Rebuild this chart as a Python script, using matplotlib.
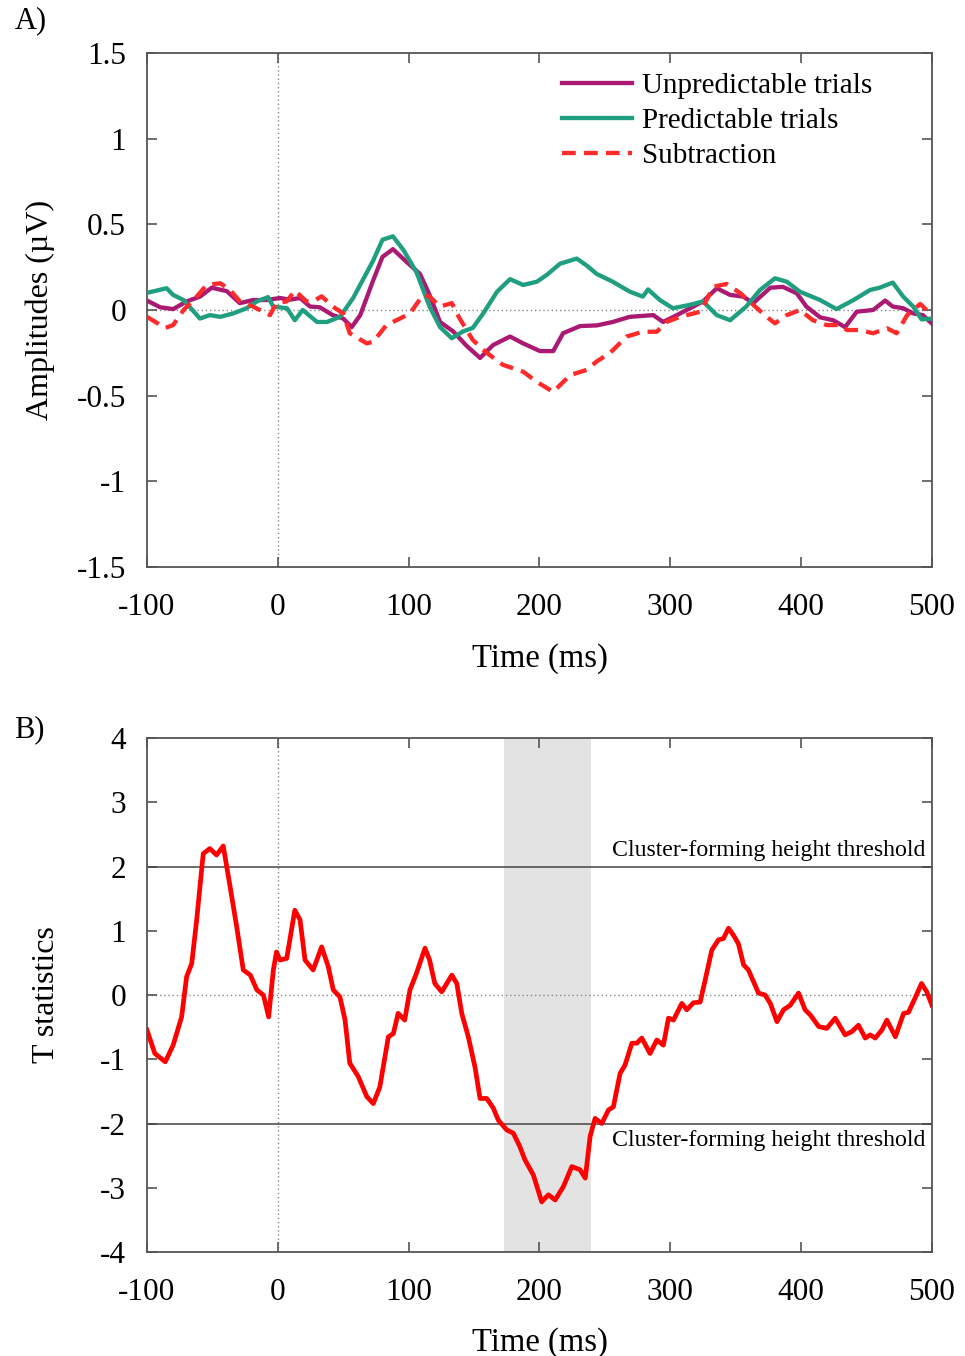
import matplotlib
matplotlib.use("Agg")
import matplotlib.pyplot as plt

plt.rcParams['font.family'] = ['Liberation Serif', 'DejaVu Serif']

# ---------------- data ----------------
t_pred = [-100, -85, -80, -72, -59.5, -52, -44, -34, -24, -16, -7.5, -3.5, 7, 13, 19, 30, 37.6, 47.5, 57.6,
          73, 80, 88, 96, 106, 116, 124, 133, 141.6, 149, 157, 167.6, 177.5, 187.5, 198, 205.6, 215.7,
          228.5, 236, 243.8, 256, 269, 279, 283, 292, 302, 315, 325, 335.5, 345.7, 358, 368.6, 380, 389,
          399, 414.5, 427, 440, 452.7, 460, 470, 478, 485.6, 492, 500]
v_pred = [0.10, 0.127, 0.088, 0.058, -0.05, -0.03, -0.04, -0.02, 0.01, 0.05, 0.075, 0.02, 0.01, -0.06, 0.0,
          -0.07, -0.07, -0.04, 0.07, 0.29, 0.41, 0.43, 0.35, 0.22, 0.02, -0.10, -0.165, -0.125, -0.105,
          -0.02, 0.107, 0.18, 0.146, 0.165, 0.205, 0.27, 0.30, 0.26, 0.21, 0.165, 0.107, 0.078, 0.12,
          0.058, 0.01, 0.03, 0.05, -0.03, -0.06, 0.02, 0.117, 0.185, 0.165, 0.107, 0.058, 0.005, 0.058,
          0.117, 0.13, 0.16, 0.078, 0.02, -0.055, -0.05]

t_unpred = [-100, -90, -80, -69.7, -59.5, -50.5, -39, -29, -19, -8.5, 1.7, 9, 17, 24.6, 32, 42, 50, 56.5,
            63, 73, 80, 88, 98.5, 108.7, 116, 124, 134, 144.4, 154.6, 164.5, 177.5, 187.5, 200.4, 210.5,
            218, 231, 243.8, 256, 269, 287, 294.5, 305, 317.5, 325, 335.5, 345.7, 355.7, 363.4, 376.4,
            386, 396.7, 404, 414.5, 424.5, 433.6, 442.5, 455, 464.2, 470, 478, 485.6, 493, 500]
v_unpred = [0.055, 0.016, 0.005, 0.05, 0.078, 0.13, 0.11, 0.04, 0.058, 0.058, 0.07, 0.06, 0.07, 0.02,
            0.016, -0.03, -0.05, -0.10, -0.03, 0.175, 0.31, 0.355, 0.28, 0.21, 0.088, -0.07, -0.125,
            -0.21, -0.28, -0.205, -0.155, -0.195, -0.24, -0.24, -0.136, -0.094, -0.09, -0.07, -0.04,
            -0.03, -0.07, -0.03, 0.02, 0.05, 0.127, 0.088, 0.078, 0.04, 0.13, 0.135, 0.097, 0.02, -0.043,
            -0.06, -0.10, -0.01, 0.0, 0.055, 0.02, 0.01, -0.02, -0.03, -0.08]

t_sub = [-100, -86, -80, -72, -62, -54.4, -44, -36.5, -29, -19, -6, -1, 6.8, 13, 22, 27, 33.5, 42, 50, 55,
         68, 73, 83, 93.4, 101, 111, 116, 124, 133, 139, 149, 159.7, 172, 187.5, 198, 210.5, 223.5, 236,
         243.8, 254, 266.7, 279, 289.7, 297, 307.5, 323, 333, 343, 353.7, 363.4, 373.7, 380, 389, 399,
         409, 419.6, 430, 435, 445, 455, 465.7, 473, 481, 491, 500]
v_sub = [-0.04, -0.105, -0.088, 0.0, 0.078, 0.146, 0.156, 0.117, 0.05, 0.02, -0.03, 0.04, 0.05, 0.113,
         0.05, 0.05, 0.08, 0.02, -0.02, -0.136, -0.195, -0.185, -0.088, -0.05, -0.02, 0.088, 0.078, 0.02,
         0.04, -0.05, -0.175, -0.25, -0.32, -0.36, -0.42, -0.478, -0.38, -0.35, -0.30, -0.25, -0.155,
         -0.127, -0.127, -0.07, -0.04, -0.01, 0.136, 0.152, 0.097, 0.03, -0.04, -0.078, -0.03, 0.0, -0.06,
         -0.088, -0.088, -0.117, -0.117, -0.136, -0.107, -0.136, -0.03, 0.035, -0.03]

t_stat = [-100, -94, -86, -80, -73.5, -69.7, -65.8, -62, -57, -52, -46.8, -41.7, -36.5, -31.4, -26.4, -21,
          -16, -11, -7, -3.4, -1, 1.7, 6.8, 13, 17, 20.8, 27, 33.5, 38.6, 42.4, 47.5, 51.4, 55, 61.5, 68,
          73, 78, 84.5, 88.3, 92, 97, 101, 106, 112.5, 116, 120, 125.3, 133, 136.8, 140.6, 145.6, 150.7,
          154.6, 159.7, 164.7, 168.6, 175, 180, 185, 189, 195.3, 201.7, 206.8, 212, 218.3, 224.7, 231,
          235, 238.7, 242.5, 247.6, 252.7, 256.5, 261.6, 265.4, 270.6, 274.4, 278.2, 284.5, 289.7, 294.7,
          298.6, 302.4, 308.8, 312.6, 317.7, 322.8, 326.6, 331.7, 336.8, 340.6, 344.5, 348.3, 352, 356,
          359.7, 367.4, 372.5, 376.4, 381.5, 386.5, 391.6, 398, 403, 407, 413.4, 419.6, 426, 433.6,
          438.7, 443.8, 449, 452.7, 456.6, 461.7, 465.5, 472, 478.3, 482, 487, 492, 496, 500]
v_stat = [-0.545, -0.91, -1.04, -0.78, -0.34, 0.285, 0.49, 1.17, 2.2, 2.28, 2.18, 2.32, 1.69, 1.06, 0.39,
          0.31, 0.08, 0.0, -0.34, 0.39, 0.67, 0.545, 0.57, 1.32, 1.17, 0.545, 0.39, 0.75, 0.44, 0.08,
          -0.03, -0.39, -1.06, -1.27, -1.58, -1.69, -1.43, -0.65, -0.6, -0.285, -0.39, 0.08, 0.34, 0.73,
          0.545, 0.18, 0.05, 0.31, 0.18, -0.285, -0.65, -1.12, -1.61, -1.61, -1.76, -1.95, -2.1, -2.15,
          -2.36, -2.57, -2.8, -3.22, -3.11, -3.19, -2.98, -2.67, -2.72, -2.85, -2.2, -1.92, -2.0, -1.79,
          -1.74, -1.22, -1.09, -0.75, -0.75, -0.67, -0.91, -0.70, -0.78, -0.36, -0.39, -0.13, -0.23,
          -0.12, -0.11, 0.23, 0.70, 0.86, 0.88, 1.04, 0.93, 0.80, 0.47, 0.39, 0.03, 0.0, -0.13, -0.415,
          -0.23, -0.16, 0.03, -0.23, -0.31, -0.49, -0.52, -0.36, -0.62, -0.57, -0.47, -0.67, -0.62,
          -0.67, -0.545, -0.39, -0.65, -0.285, -0.27, -0.05, 0.18, 0.05, -0.16]

cluster_window = [173, 239]
threshold = 2.0
x_ticks = [-100, 0, 100, 200, 300, 400, 500]
ya_ticks = [-1.5, -1, -0.5, 0, 0.5, 1, 1.5]
ya_labels = ['-1.5', '-1', '-0.5', '0', '0.5', '1', '1.5']
yb_ticks = [-4, -3, -2, -1, 0, 1, 2, 3, 4]

# ---------------- figure ----------------
fig = plt.figure(figsize=(9.65, 13.56), dpi=100)
axA = fig.add_axes([0.1523, 0.5819, 0.8135, 0.379])
axB = fig.add_axes([0.1523, 0.0767, 0.8135, 0.379])

spine_col = '#555555'
for ax in (axA, axB):
    for s in ax.spines.values():
        s.set_color(spine_col)
        s.set_linewidth(1.3)
    ax.set_xlim(-100, 500)
    ax.set_xticks(x_ticks)
    ax.set_xticklabels([str(v) for v in x_ticks])
    ax.tick_params(direction='in', length=7, width=1.2, color=spine_col,
                   top=True, right=True, labelsize=22.5)
    ax.tick_params(axis='x', pad=19)
    ax.tick_params(axis='y', pad=15)
    ax.axhline(0, color='#888888', lw=1.0, ls=(0, (1, 2)), zorder=1)
    ax.axvline(0, color='#888888', lw=1.0, ls=(0, (1, 2)), zorder=1)

# Panel A
colU = '#ab1a72'
colP = '#1f9e80'
colS = '#ff2a2a'
axA.set_ylim(-1.5, 1.5)
axA.set_yticks(ya_ticks)
axA.set_yticklabels(ya_labels)
axA.plot(t_unpred, v_unpred, color=colU, lw=3.1, label='Unpredictable trials', zorder=3)
axA.plot(t_pred, v_pred, color=colP, lw=3.1, label='Predictable trials', zorder=3)
axA.plot(t_sub, v_sub, color=colS, lw=3.1, ls=(0, (3.2, 1.9)), label='Subtraction', zorder=4)
axA.set_xlabel('Time (ms)', fontsize=23.5)
axA.set_ylabel('Amplitudes (\u00b5V)', fontsize=23)
axA.xaxis.set_label_coords(0.5, -0.148)
axA.yaxis.set_label_coords(-0.117, 0.5)
leg = axA.legend(loc='upper left', bbox_to_anchor=(0.51, 0.99), frameon=False, fontsize=21,
                 handlelength=2.4, handletextpad=0.35, labelspacing=0.3, borderpad=0)
fig.text(0.015, 0.985, 'A)', fontsize=22, va='center', ha='left')

# Panel B
axB.set_ylim(-4, 4)
axB.set_yticks(yb_ticks)
axB.set_yticklabels([str(v) for v in yb_ticks])
axB.axvspan(cluster_window[0], cluster_window[1], color='#e3e3e3', lw=0, zorder=0)
axB.axhline(threshold, color='#444444', lw=1.1, zorder=2)
axB.axhline(-threshold, color='#444444', lw=1.1, zorder=2)
axB.plot(t_stat, v_stat, color='#ff0000', lw=3.4, zorder=4)
axB.text(495, threshold + 0.08, 'Cluster-forming height threshold', ha='right', va='bottom', fontsize=17.2)
axB.text(495, -threshold - 0.1, 'Cluster-forming height threshold', ha='right', va='top', fontsize=17.2)
axB.set_xlabel('Time (ms)', fontsize=23.5)
axB.set_ylabel('T statistics', fontsize=23)
axB.xaxis.set_label_coords(0.5, -0.146)
axB.yaxis.set_label_coords(-0.109, 0.5)
fig.text(0.015, 0.462, 'B)', fontsize=22, va='center', ha='left')

fig.savefig('out.png', dpi=100)
